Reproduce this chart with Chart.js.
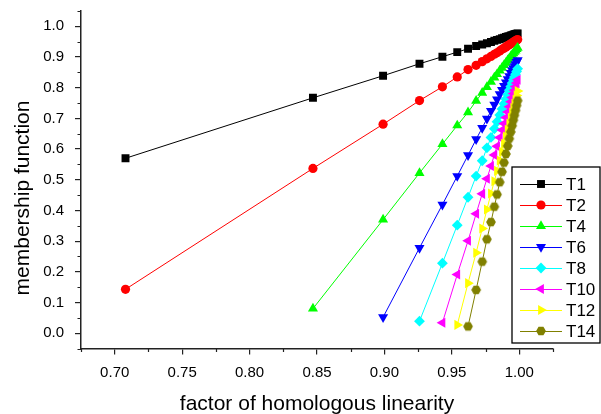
<!DOCTYPE html>
<html>
<head>
<meta charset="utf-8">
<script src="https://cdn.jsdelivr.net/npm/chart.js@4.4.1/dist/chart.umd.min.js"></script>
<style>
  html, body { margin: 0; padding: 0; background: #fff; }
</style>
</head>
<body>
<canvas id="chart" width="601" height="414"></canvas>
<script>
// factor of homologous linearity, shared by every curve
const xValues = [0.708, 0.847, 0.899, 0.926, 0.943, 0.954, 0.962, 0.968, 0.9725, 0.976, 0.979, 0.9815, 0.9835,
  0.9855, 0.9872, 0.9887, 0.9901, 0.9914, 0.9926, 0.9937, 0.9947, 0.9956, 0.9964, 0.9972, 0.998, 0.9988];

// membership function per T (null = no point at that x)
const t1 = [0.570, 0.767, 0.839, 0.878, 0.901, 0.916, 0.927, 0.936, 0.941, 0.945, 0.949, 0.953, 0.956,
  0.958, 0.961, 0.963, 0.965, 0.967, 0.968, 0.970, 0.971, 0.973, 0.974, 0.975, 0.976, 0.977];
const t2 = [0.143, 0.537, 0.681, 0.758, 0.803, 0.835, 0.859, 0.873, 0.885, 0.894, 0.902, 0.909, 0.914,
  0.920, 0.925, 0.929, 0.933, 0.937, 0.940, 0.943, 0.946, 0.948, 0.951, 0.953, 0.955, 0.957];
const t4 = [null, 0.080, 0.370, 0.522, 0.616, 0.677, 0.720, 0.757, 0.783, 0.802, 0.819, 0.833, 0.844,
  0.856, 0.865, 0.874, 0.881, 0.889, 0.895, 0.902, 0.907, 0.912, 0.917, 0.921, 0.926, 0.930];
const t6 = [null, null, 0.052, 0.278, 0.419, 0.512, 0.580, 0.632, 0.669, 0.699, 0.724, 0.745, 0.762,
  0.779, 0.793, 0.806, 0.817, 0.828, 0.838, 0.848, 0.856, 0.863, 0.870, 0.877, 0.884, 0.890];
const t8 = [null, null, null, 0.039, 0.228, 0.352, 0.443, 0.512, 0.562, 0.604, 0.638, 0.666, 0.689,
  0.711, 0.731, 0.748, 0.763, 0.778, 0.792, 0.804, 0.815, 0.826, 0.835, 0.844, 0.853, 0.862];
const t10 = [null, null, null, null, 0.034, 0.191, 0.301, 0.389, 0.454, 0.503, 0.545, 0.581, 0.609,
  0.638, 0.662, 0.683, 0.703, 0.721, 0.738, 0.754, 0.768, 0.781, 0.792, 0.804, 0.815, 0.826];
const t12 = [null, null, null, null, null, 0.027, 0.163, 0.262, 0.341, 0.403, 0.455, 0.495, 0.529,
  0.563, 0.591, 0.617, 0.641, 0.663, 0.683, 0.702, 0.719, 0.734, 0.748, 0.761, 0.775, 0.789];
const t14 = [null, null, null, null, null, null, 0.022, 0.141, 0.233, 0.306, 0.362, 0.412, 0.452,
  0.492, 0.526, 0.556, 0.584, 0.610, 0.634, 0.656, 0.676, 0.694, 0.710, 0.726, 0.742, 0.758];

const seriesLabels = ['T1', 'T2', 'T4', 'T6', 'T8', 'T10', 'T12', 'T14'];
const seriesValues = [t1, t2, t4, t6, t8, t10, t12, t14];

const xTicks = [0.70, 0.75, 0.80, 0.85, 0.90, 0.95, 1.00];
const xMinor = [0.675, 0.725, 0.775, 0.825, 0.875, 0.925, 0.975, 1.025];
const yTicks = [0.0, 0.1, 0.2, 0.3, 0.4, 0.5, 0.6, 0.7, 0.8, 0.9, 1.0];
const yMinor = [-0.05, 0.05, 0.15, 0.25, 0.35, 0.45, 0.55, 0.65, 0.75, 0.85, 0.95, 1.05];

const FONT = '"Liberation Sans", Arial, Helvetica, sans-serif';
const AXIS = '#222';

// olive hexagon marker for T14
function hexMarker(color, r) {
  const c = document.createElement('canvas');
  const s = Math.ceil(r * 2) + 2;
  c.width = c.height = s;
  const g = c.getContext('2d');
  g.fillStyle = color;
  g.beginPath();
  for (let k = 0; k < 6; k++) {
    const a = k * Math.PI / 3;
    const px = s / 2 + r * Math.cos(a), py = s / 2 + r * Math.sin(a);
    if (k === 0) g.moveTo(px, py); else g.lineTo(px, py);
  }
  g.closePath();
  g.fill();
  return c;
}

const styles = [
  { color: '#000000', point: 'rect', radius: 5.6, rotation: 0 },
  { color: '#ff0000', point: 'circle', radius: 4.6, rotation: 0 },
  { color: '#00ff00', point: 'triangle', radius: 5.8, rotation: 0 },
  { color: '#0000ff', point: 'triangle', radius: 5.8, rotation: 180 },
  { color: '#00ffff', point: 'rectRot', radius: 5.4, rotation: 0 },
  { color: '#ff00ff', point: 'triangle', radius: 5.8, rotation: -90 },
  { color: '#ffff00', point: 'triangle', radius: 5.8, rotation: 90 },
  { color: '#808000', point: hexMarker('#808000', 4.9), radius: 5, rotation: 0 }
];

const datasets = seriesValues.map((vals, i) => ({
  label: seriesLabels[i],
  data: xValues.map((x, k) => ({ x: x, y: vals[k] })).filter(p => p.y !== null),
  borderColor: styles[i].color,
  backgroundColor: styles[i].color,
  borderWidth: 1,
  pointStyle: styles[i].point,
  pointRadius: styles[i].radius,
  pointRotation: styles[i].rotation,
  pointBorderWidth: 0,
  pointBackgroundColor: styles[i].color,
  tension: 0,
  order: seriesLabels.length - i
}));

// minor ticks, axis titles and the framed legend
const extras = {
  id: 'extras',
  afterDraw(chart) {
    const ctx = chart.ctx;
    const xs = chart.scales.x, ys = chart.scales.y;
    const area = chart.chartArea;
    ctx.save();
    ctx.strokeStyle = AXIS;
    ctx.lineWidth = 1.2;
    ctx.beginPath();
    xMinor.forEach(v => {
      const px = Math.round(xs.getPixelForValue(v)) + 0.5;
      ctx.moveTo(px, area.bottom);
      ctx.lineTo(px, area.bottom + 3.5);
    });
    yMinor.forEach(v => {
      const py = Math.round(ys.getPixelForValue(v)) + 0.5;
      ctx.moveTo(area.left, py);
      ctx.lineTo(area.left - 3.5, py);
    });
    ctx.stroke();

    ctx.fillStyle = '#000';
    ctx.font = '21px ' + FONT;
    ctx.textAlign = 'center';
    ctx.textBaseline = 'alphabetic';
    ctx.fillText('factor of homologous linearity', (area.left + area.right) / 2, 410);
    ctx.save();
    ctx.translate(29, 198);
    ctx.rotate(-Math.PI / 2);
    ctx.fillText('membership function', 0, 0);
    ctx.restore();

    // legend
    const box = { left: 512, top: 167, right: 600, bottom: 343 };
    ctx.fillStyle = '#fff';
    ctx.fillRect(box.left, box.top, box.right - box.left, box.bottom - box.top);
    ctx.strokeStyle = '#000';
    ctx.lineWidth = 1.3;
    ctx.strokeRect(box.left, box.top, box.right - box.left, box.bottom - box.top);
    ctx.font = '17px ' + FONT;
    ctx.textAlign = 'left';
    ctx.textBaseline = 'middle';
    seriesLabels.forEach((lab, i) => {
      const y = 184 + i * 21;
      const st = styles[i];
      ctx.strokeStyle = st.color;
      ctx.lineWidth = 1;
      ctx.beginPath();
      ctx.moveTo(520, y + 0.5);
      ctx.lineTo(562, y + 0.5);
      ctx.stroke();
      ctx.fillStyle = st.color;
      Chart.helpers.drawPoint(ctx, {
        pointStyle: st.point, radius: st.radius, rotation: st.rotation, borderWidth: 0
      }, 541, y);
      ctx.fillStyle = '#000';
      ctx.fillText(lab, 566, y + 1);
    });
    ctx.restore();
  }
};

new Chart(document.getElementById('chart'), {
  type: 'line',
  data: { datasets: datasets },
  plugins: [extras],
  options: {
    responsive: false,
    animation: false,
    layout: { padding: { top: 11, right: 48, left: 0, bottom: 0 } },
    plugins: { legend: { display: false }, tooltip: { enabled: false } },
    scales: {
      x: {
        type: 'linear',
        min: 0.675,
        max: 1.025,
        afterBuildTicks: s => { s.ticks = xTicks.map(v => ({ value: v })); },
        afterFit: s => { s.height = 65.5; s.paddingLeft = 0; s.paddingRight = 0; },
        ticks: {
          callback: v => v.toFixed(2),
          font: { family: FONT, size: 15 },
          color: '#000',
          padding: 9,
          autoSkip: false,
          maxRotation: 0
        },
        grid: { drawOnChartArea: false, tickLength: 6, color: AXIS, lineWidth: 1.2 },
        border: { color: AXIS, width: 1.5 }
      },
      y: {
        min: -0.05,
        max: 1.05,
        afterBuildTicks: s => { s.ticks = yTicks.map(v => ({ value: v })); },
        afterFit: s => { s.width = 81; s.paddingTop = 0; s.paddingBottom = 0; },
        ticks: {
          callback: v => v.toFixed(1),
          font: { family: FONT, size: 15 },
          color: '#000',
          padding: 11,
          autoSkip: false
        },
        grid: { drawOnChartArea: false, tickLength: 6, color: AXIS, lineWidth: 1.2 },
        border: { color: AXIS, width: 1.5 }
      }
    }
  }
});
</script>
</body>
</html>
